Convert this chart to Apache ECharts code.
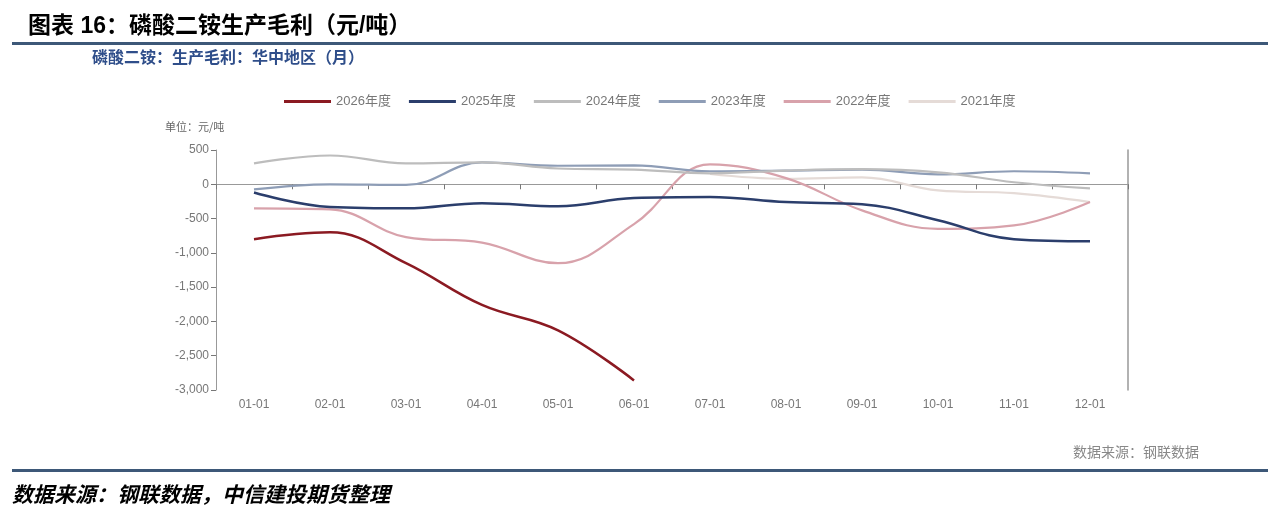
<!DOCTYPE html>
<html>
<head>
<meta charset="utf-8">
<script src="https://cdn.jsdelivr.net/npm/echarts@6/dist/echarts.min.js"></script>
<style>
html,body{margin:0;padding:0;background:#fff;}
#c{width:1280px;height:521px;}
</style>
</head>
<body>
<div id="c"></div>
<script>
var months = ['01-01','02-01','03-01','04-01','05-01','06-01','07-01','08-01','09-01','10-01','11-01','12-01'];
var yTicks = [-3000,-2500,-2000,-1500,-1000,-500,0,500];
var seriesNames = ['2026年度','2025年度','2024年度','2023年度','2022年度','2021年度'];
var s2026 = [-800,-700,-1150,-1760,-2130,-2860,null,null,null,null,null,null];
var s2025 = [-120,-330,-350,-275,-320,-200,-185,-260,-290,-525,-800,-830];
var s2024 = [305,420,305,320,230,215,160,200,220,175,30,-60];
var s2023 = [-75,0,-10,320,270,275,190,200,215,145,190,160];
var s2022 = [-350,-365,-770,-850,-1150,-580,290,90,-380,-650,-600,-260];
var s2021 = [null,null,null,null,null,null,150,80,100,-90,-130,-260];

var colors = ['#8b1a22','#2b3e6c','#bdbdbd','#8e9db6','#d8a2ab','#e5dbd7'];
var widths = [2.5,2.5,2.2,2.2,2.2,2.2];
var datas = [s2026,s2025,s2024,s2023,s2022,s2021];

var FONT = '"Liberation Sans","Noto Sans CJK SC",sans-serif';
var chart = echarts.init(document.getElementById('c'));

var series = seriesNames.map(function(n,i){
  return {
    name:n, type:'line', data:datas[i], xAxisIndex:0, yAxisIndex:0,
    smooth:0.4, symbol:'none', z: 10-i,
    lineStyle:{color:colors[i], width:widths[i]},
    itemStyle:{color:colors[i]}
  };
});

chart.setOption({
  animation:false,
  backgroundColor:'#fff',
  textStyle:{fontFamily:FONT},
  legend:{
    data:seriesNames, top:90, left:279, icon:'rect',
    itemWidth:47, itemHeight:3, itemGap:18,
    textStyle:{color:'#777', fontSize:13, fontFamily:FONT}
  },
  grid:{left:216, right:152, top:150, bottom:131, containLabel:false},
  xAxis:[{
    type:'category', data:months, boundaryGap:true,
    axisLine:{show:true, onZero:true, lineStyle:{color:'#999', width:1}},
    axisTick:{show:true, length:5, lineStyle:{color:'#777'}},
    axisLabel:{show:false}, splitLine:{show:false}
  },{
    type:'category', data:months, boundaryGap:true, position:'bottom',
    axisLine:{show:false, onZero:false}, axisTick:{show:false},
    axisLabel:{show:true, color:'#777', fontSize:12, margin:9, fontFamily:FONT},
    splitLine:{show:false}
  }],
  yAxis:[{
    type:'value', min:yTicks[0], max:yTicks[yTicks.length-1], interval:500,
    axisLine:{show:true, lineStyle:{color:'#999', width:1}},
    axisTick:{show:true, length:5, lineStyle:{color:'#777'}},
    axisLabel:{color:'#777', fontSize:12, margin:7, fontFamily:FONT,
      formatter:function(v){ return v.toLocaleString('en-US'); }},
    splitLine:{show:false}
  },{
    type:'value', position:'right', min:yTicks[0], max:yTicks[yTicks.length-1], interval:500,
    axisLine:{show:true, lineStyle:{color:'#999', width:1.5}},
    axisTick:{show:false}, axisLabel:{show:false}, splitLine:{show:false}
  }],
  series:series,
  graphic:[
    {type:'text', left:28, top:15, style:{text:'图表 16：磷酸二铵生产毛利（元/吨）', fill:'#000', font:'bold 23px "Liberation Sans","Noto Sans CJK SC",sans-serif'}},
    {type:'rect', shape:{x:12, y:42, width:1256, height:3}, style:{fill:'#3d5878'}},
    {type:'text', left:92, top:49, style:{text:'磷酸二铵：生产毛利：华中地区（月）', fill:'#2f4e8a', font:'bold 16px "Noto Sans CJK SC",sans-serif'}},
    {type:'text', left:165, top:121, style:{text:'单位：元/吨', fill:'#666', font:'11px "Noto Sans CJK SC",sans-serif'}},
    {type:'text', left:1073, top:445, style:{text:'数据来源：钢联数据', fill:'#888', font:'14px "Noto Sans CJK SC",sans-serif'}},
    {type:'rect', shape:{x:12, y:469, width:1256, height:3}, style:{fill:'#3d5878'}},
    {type:'text', left:12, top:484, style:{text:'数据来源：钢联数据，中信建投期货整理', fill:'#000', font:'italic bold 21px "Noto Sans CJK SC",sans-serif'}}
  ]
});
</script>
</body>
</html>
